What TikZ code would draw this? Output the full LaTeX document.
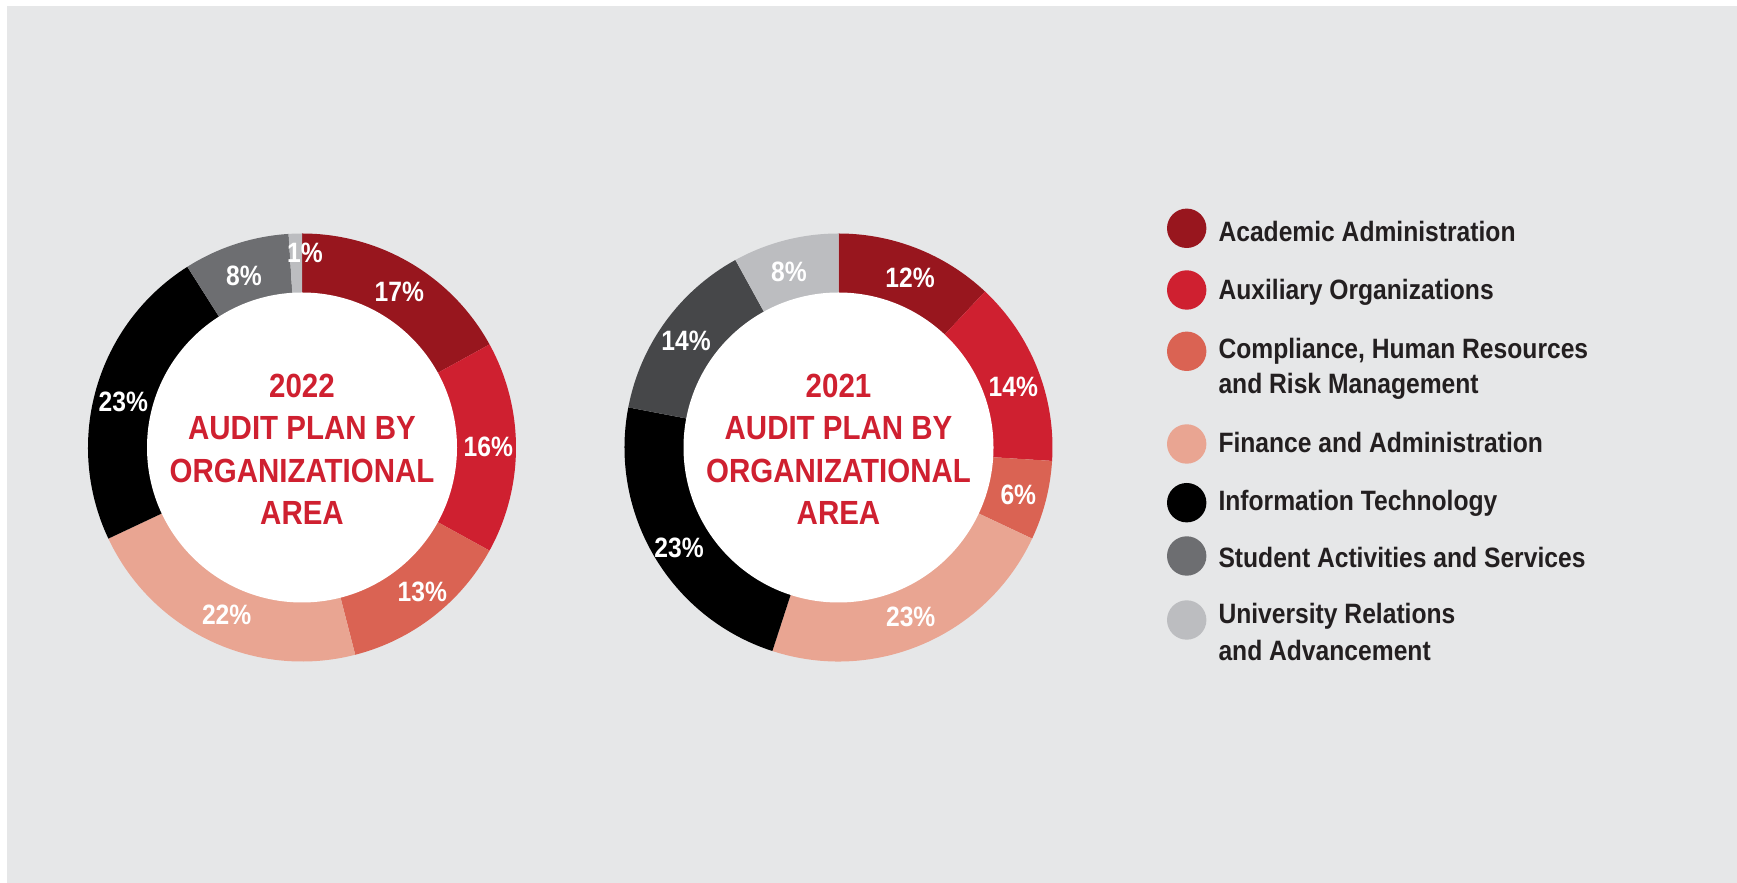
\documentclass[tikz,border=0pt]{standalone}
\usepackage{fontspec}
\setmainfont{Liberation Sans}[FakeStretch=0.88]
\definecolor{bg}{HTML}{E6E7E8}
\definecolor{acad}{HTML}{98161E}
\definecolor{aux}{HTML}{CF2030}
\definecolor{comp}{HTML}{DA6353}
\definecolor{fin}{HTML}{E9A592}
\definecolor{itc}{HTML}{000000}
\definecolor{stud}{HTML}{6D6E71}
\definecolor{studdark}{HTML}{464749}
\definecolor{univ}{HTML}{BCBDC0}
\definecolor{ink}{HTML}{231F20}
\newcommand\donutslice[5]{%
  \fill[#5] (#1,#2) -- ++({90-3.6*#3}:214) arc[start angle={90-3.6*#3}, end angle={90-3.6*#4}, radius=214pt] -- cycle;}
\tikzset{
  pct/.style={text=white, font=\bfseries\fontsize{28}{32}\selectfont, inner sep=0pt},
  hole/.style={circle, fill=white, minimum size=310pt, inner sep=0pt},
  title/.style={text=aux, font=\bfseries\fontsize{33.5}{42.5}\selectfont, align=center, inner sep=0pt, anchor=base},
  dot/.style={circle, minimum size=39.4pt, inner sep=0pt},
  legtext/.style={text=ink, font=\bfseries\fontsize{28}{36}\selectfont, align=left, inner sep=0pt, anchor=base west}
}
\begin{document}
\begin{tikzpicture}[x=1pt,y=1pt]
\useasboundingbox (0,0) rectangle (1737,883);
\fill[white] (0,0) rectangle (1737,883);
\fill[bg] (7,0) rectangle (1737,877);
% 2022 donut
\donutslice{302}{435.5}{0}{17}{acad}
\donutslice{302}{435.5}{17}{33}{aux}
\donutslice{302}{435.5}{33}{46}{comp}
\donutslice{302}{435.5}{46}{68}{fin}
\donutslice{302}{435.5}{68}{91}{itc}
\donutslice{302}{435.5}{91}{99}{stud}
\donutslice{302}{435.5}{99}{100}{univ}
\node[hole] (h22) at (302,435.5) {};
\node[title] (t22) at (302,358) {2022\\AUDIT PLAN BY\\ORGANIZATIONAL\\AREA};
\node[pct] (a22) at (399.3,591.3) {17\%};
\node[pct] (b22) at (488.3,435.7) {16\%};
\node[pct] (c22) at (422.3,291.3) {13\%};
\node[pct] (d22) at (226.7,268) {22\%};
\node[pct] (e22) at (123.3,481.3) {23\%};
\node[pct] (f22) at (244,607.3) {8\%};
\node[pct] (g22) at (305,629.7) {1\%};
% 2021 donut
\donutslice{838.5}{435.5}{0}{12}{acad}
\donutslice{838.5}{435.5}{12}{26}{aux}
\donutslice{838.5}{435.5}{26}{32}{comp}
\donutslice{838.5}{435.5}{32}{55}{fin}
\donutslice{838.5}{435.5}{55}{78}{itc}
\donutslice{838.5}{435.5}{78}{92}{studdark}
\donutslice{838.5}{435.5}{92}{100}{univ}
\node[hole] (h21) at (838.5,435.5) {};
\node[title] (t21) at (838.5,358) {2021\\AUDIT PLAN BY\\ORGANIZATIONAL\\AREA};
\node[pct] (a21) at (910,604.7) {12\%};
\node[pct] (b21) at (1013.3,496.3) {14\%};
\node[pct] (c21) at (1018.3,388) {6\%};
\node[pct] (d21) at (910.7,265.7) {23\%};
\node[pct] (e21) at (679,334.7) {23\%};
\node[pct] (f21) at (686,542) {14\%};
\node[pct] (g21) at (789,610.7) {8\%};
% legend
\node[dot, fill=acad] (la) at (1186.7,654.7) {};
\node[dot, fill=aux] (lb) at (1186.7,593) {};
\node[dot, fill=comp] (lc) at (1186.7,531.7) {};
\node[dot, fill=fin] (ld) at (1186.7,439) {};
\node[dot, fill=itc] (le) at (1186.7,380.3) {};
\node[dot, fill=stud] (lf) at (1186.7,327) {};
\node[dot, fill=univ] (lg) at (1186.7,263) {};
\node[legtext] (ta) at (1218.3,641.3) {Academic Administration};
\node[legtext] (tb) at (1218.3,583) {Auxiliary Organizations};
\node[legtext] (tc) at (1218.3,489.7) {Compliance, Human Resources\\[-1pt]and Risk Management};
\node[legtext] (td) at (1218.3,430.7) {Finance and Administration};
\node[legtext] (te) at (1218.3,372.3) {Information Technology};
\node[legtext] (tf) at (1218.3,315.3) {Student Activities and Services};
\node[legtext] (tg) at (1218.3,222.3) {University Relations\\[0.7pt]and Advancement};
\end{tikzpicture}
\end{document}
